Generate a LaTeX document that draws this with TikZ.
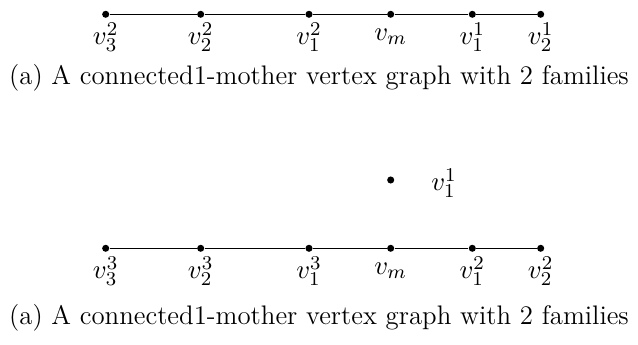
\documentclass[tikz,border=0pt]{standalone}
\begin{document}
\begin{tikzpicture}[x=0.41pt,y=-0.41pt,
  every node/.append style={font=\fontsize{11}{13.2}\selectfont},
  dot/.style={circle,fill=black,inner sep=0pt,minimum size=2.9pt},
  lab/.style={inner sep=0pt},
  edge/.style={line width=0.6pt}]
\useasboundingbox (0,0) rectangle (638,345);
% top graph
\node[dot] (a1) at (105.7,14.3) {};
\node[dot] (a2) at (200.7,14.3) {};
\node[dot] (a3) at (309,14.3) {};
\node[dot] (a4) at (390.7,14.3) {};
\node[dot] (a5) at (472.3,14.3) {};
\node[dot] (a6) at (540.7,14.3) {};
\draw[edge] (a1) -- (a2) -- (a3) -- (a4) -- (a5) -- (a6);
\node[lab] (la1) at (105.7,37) {$v_3^2$};
\node[lab] (la2) at (200.7,37) {$v_2^2$};
\node[lab] (la3) at (309,37) {$v_1^2$};
\node[lab] (la4) at (390.7,37) {$v_m$};
\node[lab] (la5) at (472.3,37) {$v_1^1$};
\node[lab] (la6) at (540.7,37) {$v_2^1$};
\node (cap1) at (319,78) {(a) A connected1-mother vertex graph with 2 families};
% bottom graph
\node[dot] (c0) at (390.7,180) {};
\node[lab] (lc0) at (444,183) {$v_1^1$};
\node[dot] (b1) at (105.7,248.3) {};
\node[dot] (b2) at (200.7,248.3) {};
\node[dot] (b3) at (309,248.3) {};
\node[dot] (b4) at (390.7,248.3) {};
\node[dot] (b5) at (472.3,248.3) {};
\node[dot] (b6) at (540.7,248.3) {};
\draw[edge] (b1) -- (b2) -- (b3) -- (b4) -- (b5) -- (b6);
\node[lab] (lb1) at (105.7,271) {$v_3^3$};
\node[lab] (lb2) at (200.7,271) {$v_2^3$};
\node[lab] (lb3) at (309,271) {$v_1^3$};
\node[lab] (lb4) at (390.7,271) {$v_m$};
\node[lab] (lb5) at (472.3,271) {$v_1^2$};
\node[lab] (lb6) at (540.7,271) {$v_2^2$};
\node (cap2) at (319,318) {(a) A connected1-mother vertex graph with 2 families};
\end{tikzpicture}
\end{document}
